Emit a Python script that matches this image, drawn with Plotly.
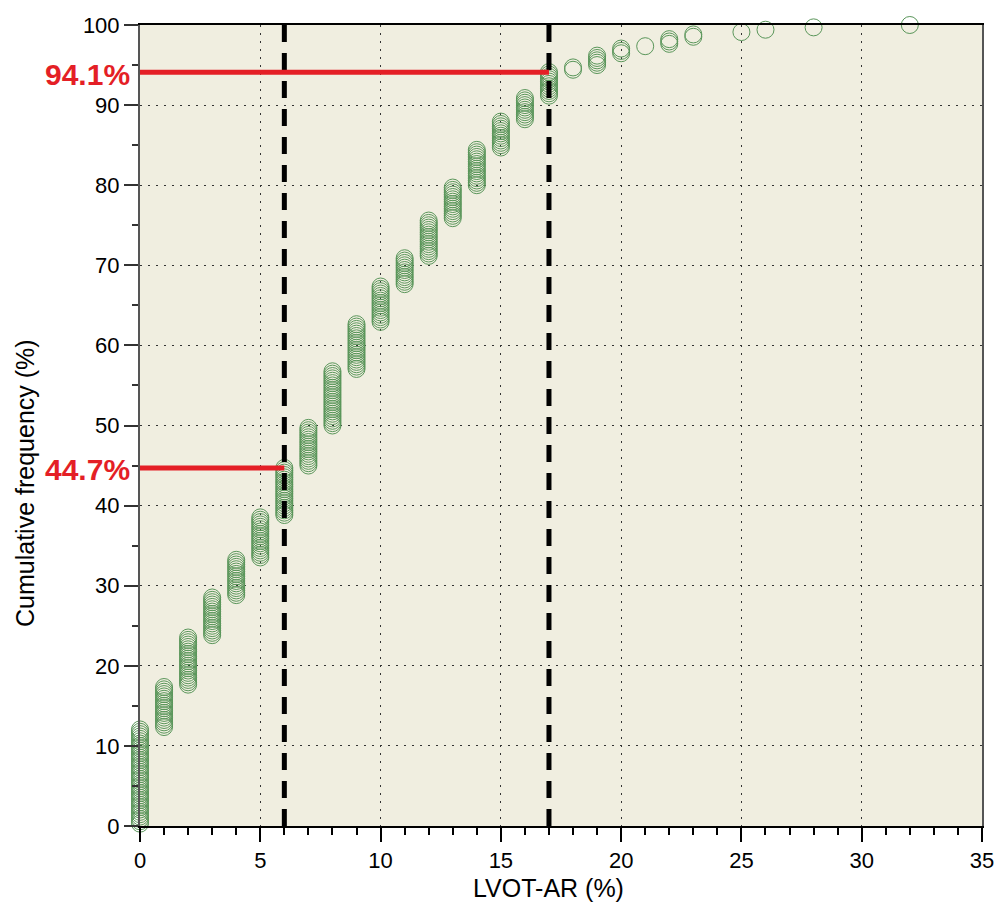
import plotly.graph_objects as go
import numpy as np

# LVOT-AR value (%) and number of patients at each value
lvot_values = [0, 1, 2, 3, 4, 5, 6, 7, 8, 9, 10, 11, 12, 13, 14, 15, 16, 17,
               18, 19, 20, 21, 22, 23, 25, 26, 28, 32]
patient_counts = [41, 18, 21, 17, 16, 18, 21, 17, 24, 20, 16, 12, 16, 14, 16, 12, 10, 11,
                  2, 5, 3, 1, 3, 2, 1, 1, 1, 1]

cutoffs = [6, 17]
cutoff_freq = [44.7, 94.1]
cutoff_labels = ['44.7%', '94.1%']

# cumulative frequency for every patient (sorted)
n_total = sum(patient_counts)
xs = np.repeat(lvot_values, patient_counts)
ys = np.arange(1, n_total + 1) / n_total * 100

tickfam = 'Liberation Sans, Arial, sans-serif'
red = '#e41f26'

fig = go.Figure()
fig.add_trace(go.Scatter(
    x=xs, y=ys, mode='markers', cliponaxis=False,
    marker=dict(symbol='circle-open', size=17, color='rgb(90,150,90)', line=dict(width=1)),
    showlegend=False, hoverinfo='skip'
))

for cx, fy, lab in zip(cutoffs, cutoff_freq, cutoff_labels):
    # dashed cut-off line
    fig.add_shape(type='line', x0=cx, x1=cx, y0=0, y1=100, xref='x', yref='y',
                  line=dict(color='black', width=5, dash='17px,11px'), layer='above')
    # red level line
    fig.add_shape(type='line', x0=0, x1=cx, y0=fy, y1=fy, xref='x', yref='y',
                  line=dict(color=red, width=5), layer='above')
    fig.add_annotation(x=0, y=fy, xref='x', yref='y', text='<b>' + lab + '</b>',
                       showarrow=False, xanchor='right', xshift=-8, yshift=-2,
                       font=dict(family=tickfam, size=30, color=red))

fig.update_xaxes(
    range=[0, 35], dtick=5, tick0=0, automargin=False,
    showline=True, linecolor='black', linewidth=2, mirror=True,
    ticks='outside', ticklen=14, tickwidth=2, tickcolor='black',
    minor=dict(dtick=1, ticks='outside', ticklen=7, tickwidth=2, tickcolor='black', showgrid=False),
    showgrid=True, gridcolor='#333', griddash='2px,6px', gridwidth=1,
    zeroline=False,
    tickfont=dict(family=tickfam, size=22, color='black'),
)
fig.update_yaxes(
    range=[0, 100], dtick=10, tick0=0, automargin=False,
    showline=True, linecolor='#555', linewidth=2, mirror=True,
    ticks='outside', ticklen=14, tickwidth=2, tickcolor='#333',
    minor=dict(dtick=5, ticks='outside', ticklen=6, tickwidth=2, tickcolor='#333', showgrid=False),
    showgrid=True, gridcolor='#333', griddash='2px,6px', gridwidth=1,
    zeroline=False,
    tickfont=dict(family=tickfam, size=22, color='black'),
)

# page has an 8px body margin
OFF = 8
W, H = 1004 - 2 * OFF, 921 - 2 * OFF
L, R, T, B = 140 - OFF, 1004 - OFF - 982, 25 - OFF, 921 - OFF - 826
pw, ph = W - L - R, H - T - B

def px(x):
    return (x - OFF - L) / pw

def py(y):
    return (H - B - (y - OFF)) / ph

# axis titles
fig.add_annotation(x=px(548), y=py(888), xref='paper', yref='paper', text='LVOT-AR (%)',
                   showarrow=False, xanchor='center', yanchor='middle',
                   font=dict(family=tickfam, size=25, color='black'))
fig.add_annotation(x=px(25), y=py(483), xref='paper', yref='paper', text='Cumulative frequency (%)',
                   showarrow=False, textangle=-90, xanchor='center', yanchor='middle',
                   font=dict(family=tickfam, size=25, color='black'))

fig.update_layout(
    width=W, height=H,
    margin=dict(l=L, r=R, t=T, b=B),
    plot_bgcolor='#f0eee0', paper_bgcolor='white',
)

fig.write_html('out.html')
